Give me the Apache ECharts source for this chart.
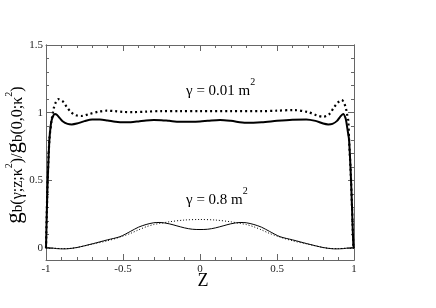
<!DOCTYPE html>
<html>
<head>
<meta charset="utf-8">
<script src="https://cdn.jsdelivr.net/npm/echarts@6/dist/echarts.min.js"></script>
<style>html,body{margin:0;padding:0;background:#fff}#c{width:436px;height:308px}</style>
</head>
<body>
<div id="c"></div>
<script>
// ---- data ----
const xTicks = [-1, -0.5, 0, 0.5, 1];
const yTicks = [0, 0.5, 1, 1.5];
const yMinorTicks = [0.1, 0.2, 0.3, 0.4, 0.6, 0.7, 0.8, 0.9, 1.1, 1.2, 1.3, 1.4];

// gamma = 0.01 m^2, solid
const zA = [-1, -0.996, -0.991, -0.985, -0.978, -0.97, -0.963, -0.952, -0.942, -0.93, -0.91, -0.89, -0.86, -0.833, -0.8, -0.75, -0.7, -0.65, -0.6, -0.55, -0.5, -0.45, -0.4, -0.35, -0.3, -0.25, -0.2, -0.13, -0.05, 0, 0.05, 0.13, 0.2, 0.3, 0.4, 0.5, 0.6, 0.69, 0.75, 0.8, 0.833, 0.86, 0.89, 0.91, 0.93, 0.945, 0.952, 0.96, 0.968, 0.979, 0.987, 0.996, 1];
const gA = [0, 0.2, 0.43, 0.62, 0.8, 0.9, 0.946, 0.98, 0.99, 0.985, 0.96, 0.935, 0.918, 0.914, 0.92, 0.938, 0.95, 0.95, 0.943, 0.934, 0.929, 0.93, 0.936, 0.943, 0.946, 0.945, 0.94, 0.934, 0.934, 0.936, 0.94, 0.946, 0.94, 0.926, 0.93, 0.94, 0.948, 0.951, 0.94, 0.92, 0.914, 0.918, 0.94, 0.97, 0.99, 0.96, 0.92, 0.86, 0.8, 0.55, 0.305, 0.02, 0];

// gamma = 0.01 m^2, dotted
const zB = [-1, -0.991, -0.978, -0.963, -0.955, -0.948, -0.935, -0.92, -0.9, -0.888, -0.866, -0.84, -0.81, -0.768, -0.72, -0.66, -0.606, -0.55, -0.5, -0.433, -0.35, -0.25, -0.13, 0, 0.2, 0.4, 0.5, 0.606, 0.7, 0.76, 0.8, 0.84, 0.87, 0.9, 0.92, 0.935, 0.948, 0.955, 0.963, 0.968, 0.979, 0.987, 0.996, 1];
const gB = [0, 0.43, 0.8, 0.95, 1.0, 1.04, 1.08, 1.1, 1.09, 1.08, 1.044, 1.007, 0.983, 0.976, 0.99, 1.008, 1.015, 1.012, 1.006, 1.005, 1.008, 1.012, 1.012, 1.012, 1.012, 1.012, 1.015, 1.02, 1.005, 0.98, 0.97, 0.99, 1.04, 1.08, 1.094, 1.075, 1.03, 0.99, 0.94, 0.8, 0.55, 0.305, 0.02, 0];

// gamma = 0.8 m^2, solid
const zC = [-1, -0.97, -0.93, -0.88, -0.85, -0.8, -0.75, -0.69, -0.65, -0.6, -0.52, -0.45, -0.4, -0.35, -0.3, -0.26, -0.2, -0.15, -0.1, -0.05, 0, 0.05, 0.1, 0.15, 0.2, 0.26, 0.3, 0.35, 0.4, 0.45, 0.52, 0.6, 0.65, 0.69, 0.75, 0.8, 0.85, 0.88, 0.93, 0.97, 1];
const gC = [0.005, 0.003, -0.003, -0.005, -0.003, 0.005, 0.018, 0.035, 0.047, 0.062, 0.085, 0.125, 0.155, 0.175, 0.188, 0.19, 0.18, 0.165, 0.15, 0.14, 0.138, 0.14, 0.15, 0.165, 0.18, 0.19, 0.188, 0.175, 0.155, 0.125, 0.085, 0.062, 0.047, 0.035, 0.018, 0.005, -0.003, -0.005, -0.003, 0.003, 0.005];

// gamma = 0.8 m^2, dotted
const zD = [-1, -0.95, -0.9, -0.85, -0.8, -0.7, -0.6, -0.52, -0.45, -0.4, -0.35, -0.3, -0.26, -0.2, -0.1, 0, 0.1, 0.2, 0.26, 0.3, 0.35, 0.4, 0.45, 0.52, 0.6, 0.7, 0.8, 0.85, 0.9, 0.95, 1];
const gD = [0, 0, -0.003, -0.002, 0.005, 0.03, 0.055, 0.082, 0.11, 0.135, 0.158, 0.175, 0.183, 0.195, 0.208, 0.212, 0.208, 0.195, 0.183, 0.175, 0.158, 0.135, 0.11, 0.082, 0.055, 0.03, 0.005, -0.002, -0.003, 0, 0];

const pairs = (zs, gs) => zs.map((z, i) => [z, gs[i]]);

const FONT = "'Liberation Serif', 'Times New Roman', 'DejaVu Serif', serif";
const frame = '#666';
const chart = echarts.init(document.getElementById('c'), null, {renderer: 'canvas'});

function xAx(pos, labels) {
  return {
    type: 'value', min: -1, max: 1, interval: 0.5, position: pos,
    axisLine: {show: true, onZero: false, lineStyle: {color: frame, width: 1}},
    axisTick: {show: true, inside: true, length: 6, lineStyle: {color: frame}},
    minorTick: {show: true, splitNumber: 5, length: 3, lineStyle: {color: frame}},
    splitLine: {show: false}, minorSplitLine: {show: false},
    axisLabel: {show: labels, margin: 4, color: '#222', fontFamily: FONT, fontSize: 11,
      formatter: v => String(v), customValues: xTicks}
  };
}
function yAx(pos, labels, ticks, len) {
  return {
    type: 'value', min: -0.087, max: 1.5, position: pos,
    axisLine: {show: true, onZero: false, lineStyle: {color: frame, width: 1}},
    axisTick: {show: true, inside: true, length: len, customValues: ticks, lineStyle: {color: frame}},
    splitLine: {show: false},
    axisLabel: {show: labels, margin: 3, color: '#222', fontFamily: FONT, fontSize: 11,
      customValues: yTicks, formatter: v => String(v)}
  };
}

const annRich = {
  t: {fontFamily: FONT, fontSize: 15, lineHeight: 22, verticalAlign: 'bottom', fill: '#000'},
  s: {fontFamily: FONT, fontSize: 10, lineHeight: 12, verticalAlign: 'top', fill: '#000'}
};

chart.setOption({
  animation: false,
  backgroundColor: '#fff',
  grid: {left: 46, right: 82, top: 45, bottom: 48},
  xAxis: [xAx('bottom', true), xAx('top', false)],
  yAxis: [yAx('left', true, yTicks, 6), yAx('left', false, yMinorTicks, 3),
          yAx('right', false, yTicks, 6), yAx('right', false, yMinorTicks, 3)],
  series: [
    {type: 'line', data: pairs(zA, gA), showSymbol: false, smooth: 0.3, lineStyle: {color: '#000', width: 2}},
    {type: 'line', data: pairs(zB, gB), showSymbol: false, smooth: 0.3, lineStyle: {color: '#000', width: 2.2, type: [2, 3]}},
    {type: 'line', data: pairs(zC, gC), showSymbol: false, smooth: 0.3, lineStyle: {color: '#000', width: 1}},
    {type: 'line', data: pairs(zD, gD), showSymbol: false, smooth: 0.3, lineStyle: {color: '#000', width: 1, type: [1, 2]}}
  ],
  graphic: [
    {type: 'text', x: 203, y: 281, style: {text: 'Z', fontFamily: FONT, fontSize: 18, fill: '#000', align: 'center', verticalAlign: 'middle'}},
    {type: 'text', x: 186, y: 88, style: {text: '{t|γ = 0.01 m}{s|2}', rich: annRich, align: 'left', verticalAlign: 'middle'}},
    {type: 'text', x: 186, y: 197, style: {text: '{t|γ = 0.8 m}{s|2}', rich: annRich, align: 'left', verticalAlign: 'middle'}},
    {type: 'text', x: 15, y: 155, rotation: Math.PI / 2,
      style: {
        text: '{g|g}{b|b}{m|(γ;z;κ}{s|2}{m|)/}{g|g}{b|b}{m|(0,0;κ}{s|2}{m|)}',
        align: 'center', verticalAlign: 'middle', fill: '#000', fontFamily: FONT,
        rich: {
          g: {fontFamily: FONT, fontSize: 23, lineHeight: 22, verticalAlign: 'middle', fill: '#000'},
          b: {fontFamily: FONT, fontSize: 15, lineHeight: 9, verticalAlign: 'bottom', fill: '#000'},
          m: {fontFamily: FONT, fontSize: 16, lineHeight: 19, verticalAlign: 'bottom', fill: '#000'},
          s: {fontFamily: FONT, fontSize: 10, lineHeight: 13, verticalAlign: 'top', fill: '#000'}
        }
      }}
  ]
});
</script>
</body>
</html>
